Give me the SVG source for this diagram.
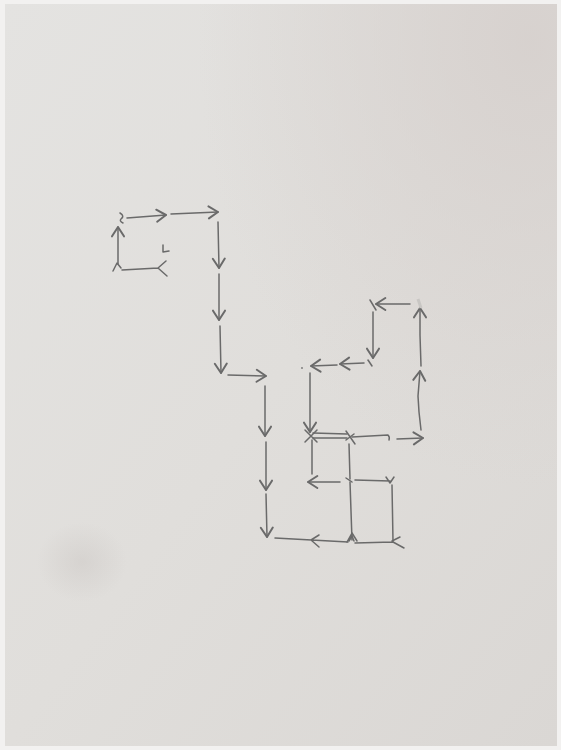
<svg xmlns="http://www.w3.org/2000/svg" width="561" height="750" viewBox="0 0 561 750">
<defs>
<linearGradient id="paper" x1="0" y1="0" x2="1" y2="1">
<stop offset="0" stop-color="#e4e3e1"/>
<stop offset="0.5" stop-color="#e0dedb"/>
<stop offset="1" stop-color="#dad7d4"/>
</linearGradient>
<radialGradient id="tr" cx="0.95" cy="0.05" r="0.6">
<stop offset="0" stop-color="#d6d0cd" stop-opacity="0.9"/>
<stop offset="1" stop-color="#d6d0cd" stop-opacity="0"/>
</radialGradient>
<radialGradient id="blob" cx="0.5" cy="0.5" r="0.5">
<stop offset="0" stop-color="#cfcbc8" stop-opacity="0.6"/>
<stop offset="1" stop-color="#cfcbc8" stop-opacity="0"/>
</radialGradient>
<marker id="ah" markerUnits="userSpaceOnUse" markerWidth="16" markerHeight="16" viewBox="-9 -6 12 12" refX="0" refY="0" orient="auto">
<path d="M-7,-4.5 L0,0 L-7,4.5" fill="none" stroke="#6a6a6a" stroke-width="1.5" stroke-linecap="round" stroke-linejoin="round"/>
</marker>
<style>
.p{fill:none;stroke:#6a6a6a;stroke-width:1.5;stroke-linecap:round;stroke-linejoin:round}
.a{marker-end:url(#ah)}
</style>
</defs>
<rect width="561" height="750" fill="#f2f1f0"/>
<rect x="5" y="4" width="552" height="742" fill="url(#paper)"/>
<rect x="5" y="4" width="552" height="742" fill="url(#tr)"/>
<ellipse cx="82" cy="562" rx="45" ry="40" fill="url(#blob)"/>
<g id="connectors">
<path class="p a" d="M118,264 L118,227"/>
<path class="p" d="M120,213 Q125,216 121,219 Q119,221 123,223"/>
<path class="p" d="M113,271 L117,263 L121,268"/>
<path class="p a" d="M127,218 L166,215"/>
<path class="p a" d="M171,214 L218,212"/>
<path class="p a" d="M218,222 L219,268"/>
<path class="p a" d="M219,274 L219,320"/>
<path class="p a" d="M220,326 L221,373"/>
<path class="p" d="M122,270 L158,268 M166,261 L158,268 L167,276"/>
<path class="p" d="M163,245 L163,252 L169,251"/>
<path class="p a" d="M228,375 L266,376"/>
<path class="p a" d="M265,386 L265,436"/>
<path class="p a" d="M266,442 L266,490"/>
<path class="p a" d="M266,494 L267,537"/>
<path class="p" d="M275,538 L348,542 M319,535 L311,540 L319,547"/>
<path class="p" d="M355,543 L393,542 L404,548 M392,541 L400,537"/>
<path class="p" d="M347,542 L352,533 L357,541 M349,541 L352,536 L354,541"/>
<path class="p" d="M350,482 L352,540"/>
<path class="p" d="M346,478 L352,482 M355,480 L390,481 M386,477 L390,483 L394,477"/>
<path class="p" d="M392,485 L393,541"/>
<path class="p" d="M349,444 L350,479"/>
<path class="p a" d="M340,482 L308,482"/>
<path class="p a" d="M310,373 L310,432"/>
<path class="p" d="M312,440 L312,474"/>
<path class="p" d="M313,433 L347,434 M313,438 L347,438"/>
<path class="p" d="M305,430 L317,442 M305,442 L317,430"/>
<path class="p" d="M346,431 L355,444 M346,440 L354,434"/>
<path class="p" d="M352,437 L388,435 Q390,437 389,440"/>
<path class="p a" d="M397,439 L423,438"/>
<path class="p a" d="M421,430 L419,412 L418,396 L420,371"/>
<path class="p a" d="M421,366 L420,335 L420,308"/>
<path class="p a" d="M410,304 L376,304"/>
<path class="p" d="M370,300 L376,310"/>
<path class="p a" d="M373,312 L373,358"/>
<path class="p" d="M368,360 L372,366"/>
<path class="p a" d="M364,363 L340,364"/>
<path class="p a" d="M337,365 L311,366"/>
<circle cx="302" cy="368" r="0.9" fill="#777"/>
<path d="M418,299 L421,308" stroke="#c8c6c3" stroke-width="3" fill="none"/>
</g>
</svg>
